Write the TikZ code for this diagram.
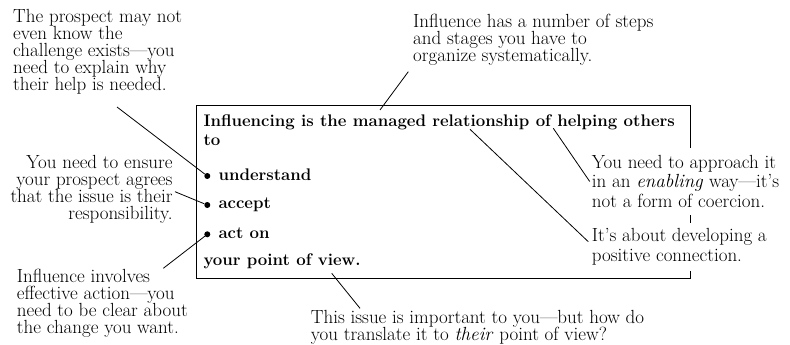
\documentclass[tikz,border=0pt]{standalone}
\usepackage{tikz}
\usetikzlibrary{positioning}

\newcommand\notefont{\fontsize{19}{17}\selectfont\lineskiplimit-20pt\relax}
\newcommand\rnotefont{\fontsize{19}{19.5}\selectfont\lineskiplimit-20pt\relax}

\tikzset{
  note/.style={font=\notefont,align=left,inner sep=0pt,anchor=north west},
  rnote/.style={note,font=\rnotefont,fill=white,inner xsep=2pt,inner ysep=7pt},
  boldline/.style={font=\bfseries\fontsize{16.8}{20}\selectfont,inner sep=0pt,anchor=base west},
  bul/.style={circle,fill=black,inner sep=0pt,minimum size=6pt},
  lead/.style={line width=0.8pt,color=black}
}

\begin{document}
\begin{tikzpicture}[x=1pt,y=-1pt]
\useasboundingbox (0,0) rectangle (790,345);
% the statement box
\draw [line width=1pt,color=black] (196,105) rectangle (690.5,278.5);
\node[boldline] (head) at (203.3,126.7) {Influencing is the managed relationship of helping others};
\node[boldline] (to) at (203.3,145) {to};
\node[bul] (b1) at (207.3,176) {};
\node[bul] (b2) at (207.3,205) {};
\node[bul] (b3) at (207.3,234.3) {};
\node[boldline] (und) at (218.3,180) {understand};
\node[boldline] (acc) at (218.3,208.3) {accept};
\node[boldline] (act) at (218.3,238.3) {act on};
\node[boldline] (view) at (203.3,265) {your point of view.};

% notes round it
\node[note] (prospect) at (13,9.3) {The prospect may not\\even know the\\challenge exists---you\\need to explain why\\their help is needed.};
\node[note,align=right,anchor=north east] (ensure) at (172.7,155.1) {You need to ensure\\your prospect agrees\\that the issue is their\\responsibility.};
\node[note] (action) at (16.7,268.5) {Influence involves\\effective action---you\\need to be clear about\\the change you want.};
\node[note] (steps) at (413,14.1) {Influence has a number of steps\\and stages you have to\\organize systematically.};
\node[rnote] (enab) at (589.7,148.1) {You need to approach it\\in an \emph{enabling} way---it's\\not a form of coercion.};
\node[rnote,inner ysep=6pt] (dev) at (589.7,222.5) {It's about developing a\\positive connection.};
\node[note] (trans) at (310.7,310.1) {This issue is important to you---but how do\\you translate it to \emph{their} point of view?};

\coordinate (p1) at (117,107);
\coordinate (p2) at (175,191.7);
\coordinate (p3) at (163.3,268.3);
\coordinate (p4) at (408.3,71.7);
\coordinate (managed) at (380,110);
\coordinate (of) at (553.3,128.3);
\coordinate (rel) at (470,129.3);
\coordinate (devtip) at (588.3,241.7);
\coordinate (vw) at (331.7,273.3);
\coordinate (p7) at (360,308.3);

\draw [lead] (p1)--(b1);
\draw [lead] (p2)--(b2);
\draw [lead] (p3)--(b3);
\draw [lead] (p4)--(managed);
\draw [lead] (of)--(enab.west);
\draw [lead] (rel)--(devtip);
\draw [lead] (vw)--(p7);
\end{tikzpicture}
\end{document}
